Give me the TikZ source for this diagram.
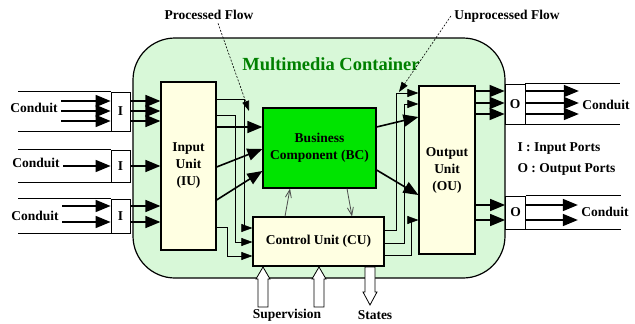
\documentclass[tikz,border=0pt]{standalone}
\usepackage{fontspec}
\setmainfont{Liberation Serif}
\usetikzlibrary{arrows.meta}

\definecolor{mmbg}{RGB}{216,248,216}
\definecolor{unitbg}{RGB}{255,255,226}
\definecolor{bcgreen}{RGB}{0,228,0}
\definecolor{titlegreen}{RGB}{0,128,0}

\tikzset{
  txt/.style={font=\fontsize{13.5}{17}\selectfont\bfseries},
  unit/.style={draw, line width=1.2pt, fill=unitbg, inner sep=0pt, txt, align=center},
  port/.style={draw, line width=0.8pt, fill=white, inner sep=0pt, minimum width=19pt, txt},
  flow/.style={line width=1.6pt, -{Triangle[length=15pt,width=12pt]}},
  route/.style={line width=0.6pt, -{Triangle[length=11pt,width=8pt]}},
  ctrl/.style={line width=0.8pt, gray!60!black, -{Straight Barb[length=8pt,width=6pt]}},
  note/.style={line width=0.6pt, dash pattern=on 2pt off 1.5pt, -{Triangle[length=10pt,width=7pt]}},
  hollow/.style={draw, line width=0.8pt, fill=white},
  conduit/.style={line width=0.8pt},
}

\begin{document}
\begin{tikzpicture}[x=1pt, y=-1pt]
      \useasboundingbox (0,0) rectangle (635,324);%

      % container
      \draw[line width=1.2pt, fill=mmbg, rounded corners=42pt] (133,38) rectangle (505,278);
      \node[txt, font=\fontsize{18.5}{20}\selectfont\bfseries, text=titlegreen] (title) at (331,64) {Multimedia Container};

      % units
      \node[unit, minimum width=55pt, minimum height=168pt] (iu) at (188.5,166) {Input\\Unit\\(IU)};
      \node[unit, fill=bcgreen, minimum width=113pt, minimum height=80pt] (bc) at (319.5,148) {Business\\Component (BC)};
      \node[unit, minimum width=131pt, minimum height=49pt] (cu) at (318.5,241.5) {Control Unit (CU)};
      \node[unit, minimum width=56pt, minimum height=168pt] (ou) at (447,170) {Output\\Unit\\(OU)};

      % ports
      \node[port, minimum height=39pt] (i1) at (120.5,111.5) {I};
      \node[port, minimum height=32pt] (i2) at (120.5,166) {I};
      \node[port, minimum height=34pt] (i3) at (120.5,216) {I};
      \node[port, minimum width=20pt, minimum height=40pt] (o1) at (515,104) {O};
      \node[port, minimum width=20pt, minimum height=33pt] (o2) at (515.5,212.5) {O};

      \foreach \p in {i1,i2,i3} {
        \draw[conduit] (\p.north west) -- ++(-93,0);
        \draw[conduit] (\p.south west) -- ++(-93,0);
      }
      \foreach \p in {o1,o2} {
        \draw[conduit] (\p.north east) -- ++(95,0);
        \draw[conduit] (\p.south east) -- ++(95,0);
      }

      % conduit labels
      \node[txt] (ci1) at (34,108) {Conduit};
      \node[txt] (ci2) at (36,163) {Conduit};
      \node[txt] (ci3) at (35,216) {Conduit};
      \node[txt] (co1) at (606,105) {Conduit};
      \node[txt] (co2) at (605,212) {Conduit};

      % flows in
      \foreach \y in {101,111,121} {
        \draw[flow] (ci1.east |- 0,\y) -- (i1.west |- 0,\y);
        \draw[flow] (i1.east |- 0,\y) -- (iu.west |- 0,\y);
      }
      \draw[flow] (ci2.east |- i2) -- (i2.west);
      \draw[flow] (i2.east) -- (iu.west |- i2);
      \foreach \y in {206,222} {
        \draw[flow] (ci3.east |- 0,\y) -- (i3.west |- 0,\y);
        \draw[flow] (i3.east |- 0,\y) -- (iu.west |- 0,\y);
      }

      % flows out
      \foreach \y in {91,103,114} {
        \draw[flow] (ou.east |- 0,\y) -- (o1.west |- 0,\y);
        \draw[flow] (o1.east |- 0,\y) -- (co1.west |- 0,\y);
      }
      \foreach \y in {205,220} {
        \draw[flow] (ou.east |- 0,\y) -- (o2.west |- 0,\y);
        \draw[flow] (o2.east |- 0,\y) -- (co2.west |- 0,\y);
      }

      % processed flow
      \draw[flow] (iu.east |- 0,127) -- (bc.west |- 0,127);
      \draw[flow] (iu.east |- 0,167) -- (bc.west |- 0,149);
      \draw[flow] (iu.east |- 0,200) -- (bc.west |- 0,171);
      \draw[flow] (bc.east |- 0,127) -- (ou.west |- 0,117);
      \draw[flow] (bc.east |- 0,170) -- (ou.west |- 0,195);

      % unprocessed flow
      \draw[route] (iu.east |- 0,99) -| (244,228) -- (cu.west |- 0,228);
      \draw[route] (iu.east |- 0,115) -| (235,242) -- (cu.west |- 0,242);
      \draw[route] (iu.east |- 0,227) -| (227,256) -- (cu.west |- 0,256);
      \draw[route] (cu.east |- 0,230) -| (396,93) -- (ou.west |- 0,93);
      \draw[route] (cu.east |- 0,243) -| (404,104) -- (ou.west |- 0,104);
      \draw[route] (cu.east |- 0,255) -| (411,220) -- (ou.west |- 0,220);

      % control
      \draw[ctrl] (cu.north -| 285,0) -- (bc.south -| 290,0);
      \draw[ctrl] (bc.south -| 347,0) -- (cu.north -| 352,0);

      % notes
      \node[txt] (pf) at (209,15) {Processed Flow};
      \node[txt] (uf) at (507,16) {Unprocessed Flow};
      \coordinate (pfend) at (249,111);
      \coordinate (ufend) at (399,92);
      \draw[note] (pf.south -| 218,0) -- (pfend);
      \draw[note] (uf.west) -- (ufend);

      % legend
      \node[txt, anchor=west] (lgi) at (514,149) {I : Input Ports};
      \node[txt, anchor=west] (lgo) at (514,169) {O : Output Ports};

      % supervision and states
      \foreach \x in {263,319}
        \draw[hollow, shift={(\x,0)}] (-5,307) -- (-5,279) -- (-7,279) -- (0,267) -- (7,279) -- (5,279) -- (5,307) -- cycle;
      \draw[hollow, shift={(370,0)}] (-5,267) -- (-5,292) -- (-7,292) -- (0,305) -- (7,292) -- (5,292) -- (5,267) -- cycle;
      \node[txt] (sup) at (287,315) {Supervision};
      \node[txt] (st) at (375,315) {States};
    \end{tikzpicture}
\end{document}
